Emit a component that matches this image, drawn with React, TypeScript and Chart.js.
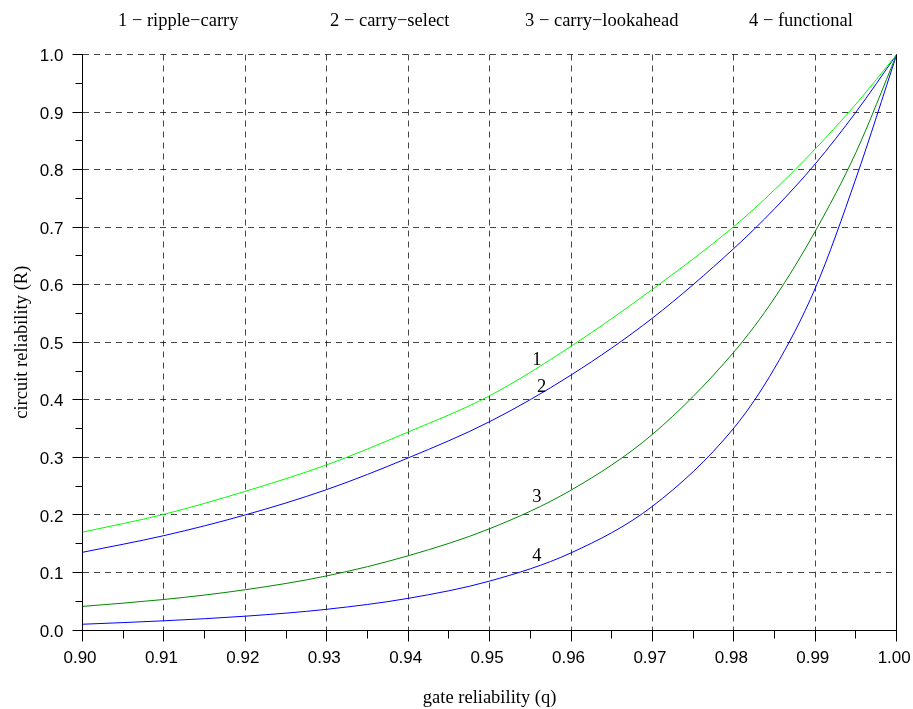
import React, { useEffect, useRef } from 'react';
import { Chart, registerables } from 'chart.js';

Chart.register(...registerables);

// ---- data ----
const gateReliability = [0.90, 0.91, 0.92, 0.93, 0.94, 0.95, 0.96, 0.97, 0.98, 0.985, 0.99, 0.995, 1.00];
const rippleCarry = [0.170, 0.201, 0.241, 0.287, 0.344, 0.407, 0.493, 0.592, 0.701, 0.765, 0.836, 0.914, 1.0];
const carrySelect = [0.135, 0.164, 0.200, 0.244, 0.299, 0.362, 0.443, 0.542, 0.663, 0.732, 0.810, 0.900, 1.0];
const carryLookahead = [0.041, 0.053, 0.070, 0.094, 0.129, 0.176, 0.243, 0.340, 0.483, 0.577, 0.693, 0.830, 1.0];
const functional = [0.010, 0.016, 0.024, 0.036, 0.055, 0.085, 0.134, 0.215, 0.351, 0.455, 0.594, 0.785, 1.0];

const seriesNames = ['1 − ripple−carry', '2 − carry−select', '3 − carry−lookahead', '4 − functional'];
const seriesColors = ['#00ff00', '#0000ff', '#008800', '#0000ff'];

const curveLabels = ['1', '2', '3', '4'];
const curveLabelQ = [0.9558, 0.9564, 0.9558, 0.9558];
const curveLabelR = [0.460, 0.414, 0.222, 0.120];

const xTicks = [0.90, 0.91, 0.92, 0.93, 0.94, 0.95, 0.96, 0.97, 0.98, 0.99, 1.00];
const yTicks = [0.0, 0.1, 0.2, 0.3, 0.4, 0.5, 0.6, 0.7, 0.8, 0.9, 1.0];

const xTitle = 'gate reliability (q)';
const yTitle = 'circuit reliability (R)';

const SERIF = '18.5px "Liberation Serif", "DejaVu Serif", serif';

const decorPlugin = {
  id: 'decor',
  afterDraw(chart: any) {
    const { ctx, chartArea: a, scales } = chart;
    const x = scales.x;
    const y = scales.y;
    const al = (p: number) => Math.round(p - 0.5) + 0.5;
    ctx.save();
    ctx.strokeStyle = '#000';
    ctx.lineWidth = 1;
    ctx.setLineDash([]);
    // right border
    const rx = al(a.right);
    ctx.beginPath();
    ctx.moveTo(rx, a.top);
    ctx.lineTo(rx, a.bottom + 0.5);
    ctx.stroke();
    // x ticks (major + minor)
    const by = al(a.bottom);
    ctx.beginPath();
    xTicks.forEach((v, i) => {
      const px = al(x.getPixelForValue(v));
      ctx.moveTo(px, by);
      ctx.lineTo(px, by + 11);
      if (i < xTicks.length - 1) {
        const mx = al(x.getPixelForValue((v + xTicks[i + 1]) / 2));
        ctx.moveTo(mx, by);
        ctx.lineTo(mx, by + 8);
      }
    });
    // y ticks
    const lx = al(a.left);
    yTicks.forEach((v, i) => {
      const py = al(y.getPixelForValue(v));
      ctx.moveTo(lx, py);
      ctx.lineTo(lx - 10, py);
      if (i < yTicks.length - 1) {
        const my = al(y.getPixelForValue((v + yTicks[i + 1]) / 2));
        ctx.moveTo(lx, my);
        ctx.lineTo(lx - 7, my);
      }
    });
    ctx.stroke();

    // texts
    ctx.fillStyle = '#000';
    ctx.font = SERIF;
    ctx.textBaseline = 'alphabetic';
    // legend row
    const legendX = [118, 330, 525, 749];
    ctx.textAlign = 'left';
    seriesNames.forEach((n, i) => ctx.fillText(n, legendX[i], 26));
    // curve labels
    ctx.textAlign = 'center';
    curveLabels.forEach((t, i) => {
      ctx.fillText(t, x.getPixelForValue(curveLabelQ[i]), y.getPixelForValue(curveLabelR[i]));
    });
    // axis titles
    ctx.fillText(xTitle, (a.left + a.right) / 2, 703);
    ctx.save();
    ctx.translate(26.5, (a.top + a.bottom) / 2);
    ctx.rotate(-Math.PI / 2);
    ctx.fillText(yTitle, 0, 0);
    ctx.restore();
    ctx.restore();
  },
};

export default function App() {
  const ref = useRef<HTMLCanvasElement | null>(null);
  useEffect(() => {
    if (!ref.current) return;
    const series = [rippleCarry, carrySelect, carryLookahead, functional];
    const chart = new Chart(ref.current, {
      type: 'line',
      data: {
        datasets: series.map((s, i) => ({
          label: seriesNames[i],
          data: gateReliability.map((q, j) => ({ x: q, y: s[j] })),
          borderColor: seriesColors[i],
          backgroundColor: seriesColors[i],
          borderWidth: 1,
          pointRadius: 0,
          fill: false,
          cubicInterpolationMode: 'monotone' as const,
        })),
      },
      options: {
        animation: false,
        responsive: false,
        events: [],
        layout: { padding: { top: 54.5, right: 16.3, left: 0, bottom: 0 } },
        plugins: { legend: { display: false }, tooltip: { enabled: false }, title: { display: false } },
        scales: {
          x: {
            type: 'linear',
            min: 0.9,
            max: 1.0,
            afterBuildTicks: (s: any) => {
              s.ticks = xTicks.map((v) => ({ value: v }));
            },
            afterFit: (s: any) => {
              s.height = 709 - 630;
              s.paddingLeft = 0;
              s.paddingRight = 0;
            },
            ticks: {
              color: '#000',
              font: { family: '"Liberation Sans", Arial, sans-serif', size: 17 },
              padding: 18,
              labelOffset: -2.5,
              maxRotation: 0,
              autoSkip: false,
              callback: (v: any) => Number(v).toFixed(2),
            },
            grid: { color: 'rgba(0,0,0,0.72)', lineWidth: 1, drawTicks: false },
            border: { display: true, color: '#000', width: 1, dash: [6, 5] },
          },
          y: {
            type: 'linear',
            min: 0,
            max: 1,
            afterBuildTicks: (s: any) => {
              s.ticks = yTicks.map((v) => ({ value: v }));
            },
            afterFit: (s: any) => {
              s.width = 82.5;
              s.paddingTop = 0;
              s.paddingBottom = 0;
            },
            ticks: {
              color: '#000',
              font: { family: '"Liberation Sans", Arial, sans-serif', size: 17 },
              padding: 19,
              labelOffset: 2,
              autoSkip: false,
              callback: (v: any) => Number(v).toFixed(1),
            },
            grid: { color: 'rgba(0,0,0,0.72)', lineWidth: 1, drawTicks: false },
            border: { display: true, color: '#000', width: 1, dash: [6, 5] },
          },
        },
      },
      plugins: [decorPlugin],
    });
    return () => chart.destroy();
  }, []);
  return (
    <div style={{ position: 'absolute', left: 0, top: 0, width: 913, height: 709, background: '#fff' }}>
      <canvas ref={ref} width={913} height={709} style={{ display: 'block' }} />
    </div>
  );
}
